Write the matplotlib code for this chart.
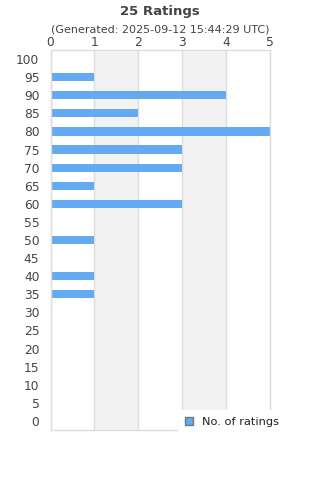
import matplotlib
matplotlib.use("Agg")
import matplotlib.pyplot as plt
from matplotlib.patches import Patch

title = "25 Ratings"
subtitle = "(Generated: 2025-09-12 15:44:29 UTC)"
ratings = [0, 5, 10, 15, 20, 25, 30, 35, 40, 45, 50, 55, 60, 65, 70, 75, 80, 85, 90, 95, 100]
counts = [0, 0, 0, 0, 0, 0, 0, 1, 1, 0, 1, 0, 3, 1, 3, 3, 5, 2, 4, 1, 0]
x_ticks = [0, 1, 2, 3, 4, 5]
legend_label = "No. of ratings"

bar_color = "#63aaf2"
text_color = "#444444"
grid_color = "#dddddd"
band_color = "#f2f2f2"

fig = plt.figure(figsize=(3.2, 4.8), dpi=100)
ax = fig.add_axes([50.5/320, 1-430/480, 219.5/320, 380/480])

pos = list(range(len(ratings)))
ax.set_ylim(-0.5, len(ratings) - 0.5)
ax.set_xlim(x_ticks[0], x_ticks[-1])

for i in range(len(x_ticks) - 1):
    if i % 2 == 1:
        ax.axvspan(x_ticks[i], x_ticks[i+1], color=band_color, zorder=0, lw=0)
for xt in x_ticks:
    ax.axvline(xt, color=grid_color, lw=1, zorder=0.5)

ax.barh(pos, counts, height=0.45, color=bar_color, zorder=2)

ax.set_yticks(pos)
ax.set_yticklabels([str(r) for r in ratings], fontsize=8.8, color=text_color)
ax.set_xticks(x_ticks)
ax.set_xticklabels([str(x) for x in x_ticks], fontsize=8.8, color=text_color)
ax.xaxis.tick_top()
ax.tick_params(axis="both", length=0)
ax.tick_params(axis="x", pad=1)
ax.tick_params(axis="y", pad=8)
for s in ax.spines.values():
    s.set_color(grid_color)
    s.set_linewidth(1)

fig.text(160/320, 1-11/480, title, ha="center", va="center", fontsize=9.5,
         fontweight="bold", color=text_color)
fig.text(160/320, 1-30/480, subtitle, ha="center", va="center", fontsize=8,
         color=text_color)

handle = Patch(facecolor=bar_color, edgecolor="#777777", lw=1)
leg = ax.legend([handle], [legend_label], loc="upper left",
                bbox_to_anchor=(178/320, 1-410/480), bbox_transform=fig.transFigure,
                frameon=True, facecolor="white", edgecolor="white", framealpha=1,
                fancybox=False, fontsize=8.2, handlelength=0.75, handleheight=0.75,
                handletextpad=0.8, borderpad=0.6, borderaxespad=0)
for t in leg.get_texts():
    t.set_color("#222222")
leg.set_zorder(10)

fig.savefig("out.png", dpi=100)
